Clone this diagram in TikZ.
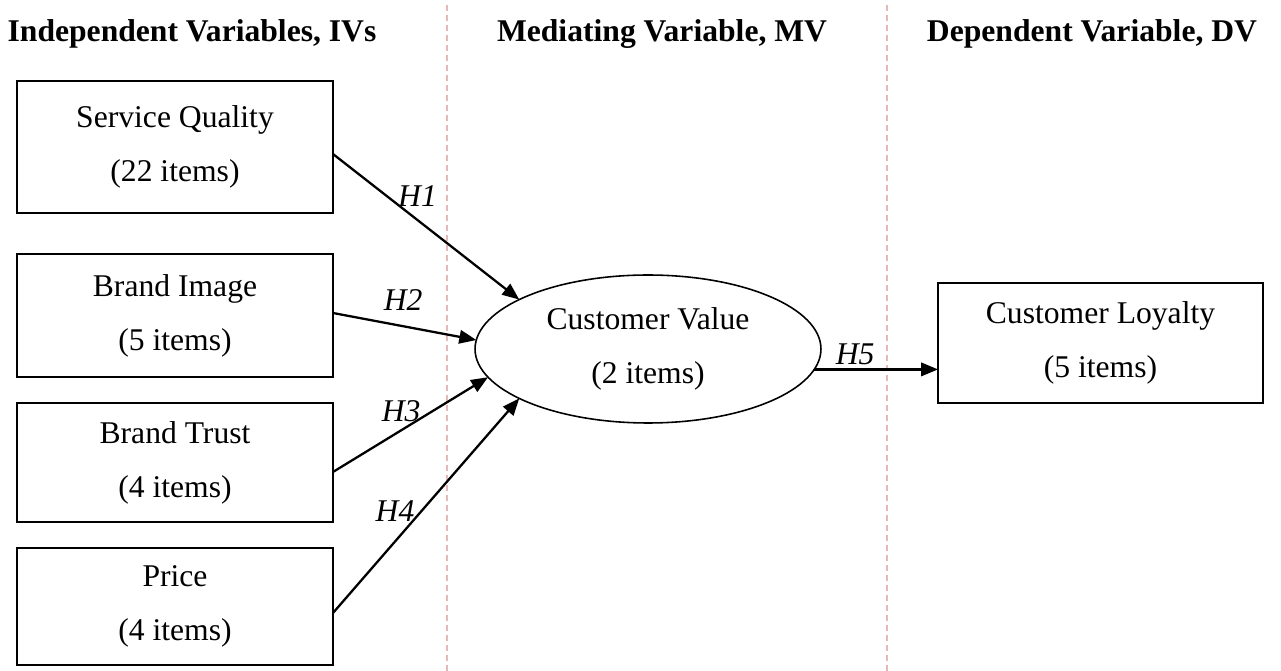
\documentclass[tikz,border=0pt]{standalone}
\usepackage{fontspec}
\setmainfont{Liberation Serif}
\usetikzlibrary{arrows.meta, shapes.geometric}
\definecolor{sepred}{RGB}{230,185,184}

\begin{document}
\begin{tikzpicture}[x = 0.02cm, y = -0.02cm,
		font = \fontsize{18}{30.7}\selectfont,
		box/.style = {draw, line width = 1pt, minimum width = 6.32cm, inner sep = 0pt, outer sep = 0pt, align = center},
		arr/.style = {-{Triangle[length = 0.34cm, width = 0.27cm]}, line width = 1.3pt},
		lbl/.style = {font = \fontsize{18}{20}\selectfont\itshape, inner sep = 0pt, anchor = south},
		head/.style = {font = \fontsize{18}{20}\selectfont\bfseries, anchor = base},
		sep/.style = {sepred, line width = 0.7pt, dash pattern = on 0.12cm off 0.08cm}]
		\useasboundingbox (0,0) rectangle (1281,671);
		\draw[sep] (447,5) -- (447,671);
		\draw[sep] (887,5) -- (887,671);
		\node[head] (ivhead) at (192,42) {Independent Variables, IVs};
		\node[head] (mvhead) at (662,42) {Mediating Variable, MV};
		\node[head] (dvhead) at (1092,42) {Dependent Variable, DV};
		\node[box, minimum height = 2.64cm] (sq) at (175,147) {Service Quality\\(22 items)};
		\node[box, minimum height = 2.46cm] (bi) at (175,315.5) {Brand Image\\(5 items)};
		\node[box, minimum height = 2.38cm] (bt) at (175,462.5) {Brand Trust\\(4 items)};
		\node[box, minimum height = 2.34cm] (pr) at (175,606.5) {Price\\(4 items)};
		\node[draw, ellipse, line width = 0.9pt, minimum width = 6.92cm, minimum height = 2.96cm, inner sep = 0pt, outer sep = 0pt, align = center] (cv) at (648,349) {Customer Value\\(2 items)};
		\node[box, minimum width = 6.5cm, minimum height = 2.4cm] (cl) at (1100.5,343) {Customer Loyalty\\(5 items)};
		\draw[arr] ([yshift = -0.14cm]sq.east) -- node[lbl, pos = 0.454, yshift = 0.25cm] (h1) {H1} (cv.159);
		\draw[arr] ([yshift = 0.05cm]bi.east) -- node[lbl, pos = 0.49, yshift = 0.29cm] (h2) {H2} (cv.177);
		\draw[arr] ([yshift = -0.19cm]bt.east) -- node[lbl, pos = 0.44, yshift = 0.15cm] (h3) {H3} (cv.190);
		\draw[arr] ([yshift = -0.13cm]pr.east) -- node[lbl, pos = 0.333, yshift = 0.38cm] (h4) {H4} (cv.201);
		\draw[arr] (cv.353) -- node[lbl, pos = 0.33, yshift = 0.07cm] (h5) {H5} (cv.353 -| cl.west);
	\end{tikzpicture}
\end{document}
